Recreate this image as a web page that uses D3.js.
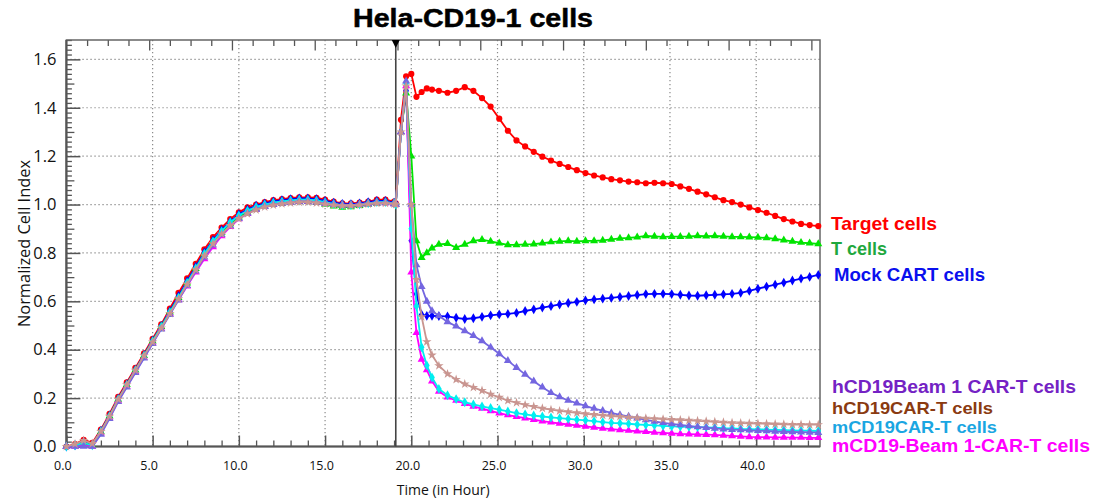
<!DOCTYPE html>
<html>
<head>
<meta charset="utf-8">
<script src="https://cdn.jsdelivr.net/npm/d3@7"></script>
<style>
  html, body { margin: 0; padding: 0; background: #ffffff; }
  svg { display: block; }
</style>
</head>
<body>
<svg id="chart" width="1102" height="501"></svg>
<script>
// ---------------- DATA ----------------
const hours = [
  0,0.5,1,1.5,2,2.5,3,3.5,4,4.5,5,5.5,6,6.5,7,7.5,8,8.5,9,9.5,10,10.5,11,11.5,12,12.5,13,13.5,14,14.5,15,15.5,16,16.5,17,17.5,18,18.5,19,
  19.1,19.4,19.7,20.0,20.3,20.6,20.9,21.2,
  21.6,22.1,22.6,23.1,23.6,24.1,24.6,25.1,25.6,26.1,26.6,27.1,27.6,28.1,28.6,29.1,29.6,30.1,30.6,31.1,31.6,32.1,32.6,33.1,33.6,34.1,34.6,35.1,35.6,36.1,36.6,37.1,37.6,38.1,38.6,39.1,39.6,40.1,40.6,41.1,41.6,42.1,42.6,43.1,43.6
];

const targetCells = [
  0,0.01,0.028,0.015,0.07,0.135,0.205,0.265,0.325,0.385,0.445,0.505,0.57,0.635,0.695,0.755,0.815,0.865,0.905,0.94,0.968,0.988,1.0,1.01,1.018,1.022,1.027,1.03,1.03,1.028,1.02,1.012,1.005,1.005,1.008,1.012,1.02,1.02,1.012,
  1.005,1.35,1.53,1.54,1.445,1.465,1.48,1.475,
  1.47,1.462,1.47,1.485,1.47,1.44,1.405,1.355,1.305,1.265,1.24,1.218,1.198,1.182,1.168,1.155,1.142,1.13,1.12,1.112,1.105,1.1,1.095,1.092,1.088,1.09,1.088,1.085,1.075,1.065,1.053,1.042,1.03,1.018,1.01,1.0,0.988,0.977,0.966,0.953,0.94,0.93,0.92,0.915,0.911
];
const tCells = [
  0,0.005,0.015,0.005,0.06,0.125,0.195,0.255,0.315,0.375,0.435,0.495,0.555,0.615,0.675,0.735,0.795,0.845,0.885,0.92,0.948,0.968,0.982,0.993,1.0,1.005,1.01,1.012,1.012,1.008,1.0,0.993,0.988,0.99,0.995,1.0,1.005,1.008,1.005,
  1.0,1.3,1.46,1.2,0.85,0.78,0.8,0.82,
  0.835,0.838,0.822,0.835,0.85,0.855,0.848,0.84,0.833,0.833,0.835,0.836,0.84,0.845,0.848,0.85,0.848,0.85,0.85,0.852,0.856,0.86,0.862,0.865,0.87,0.868,0.866,0.867,0.867,0.868,0.87,0.869,0.87,0.868,0.866,0.866,0.865,0.864,0.862,0.858,0.853,0.848,0.843,0.84,0.837
];
const mockCART = [
  0,0.005,0.02,0.008,0.065,0.128,0.198,0.258,0.318,0.378,0.438,0.498,0.56,0.622,0.683,0.743,0.803,0.853,0.895,0.93,0.96,0.98,0.995,1.005,1.013,1.018,1.022,1.025,1.025,1.022,1.015,1.008,1.003,1.002,1.005,1.01,1.015,1.015,1.008,
  1.005,1.3,1.47,0.85,0.63,0.545,0.54,0.54,
  0.539,0.538,0.532,0.527,0.53,0.536,0.542,0.546,0.548,0.552,0.56,0.567,0.574,0.58,0.587,0.593,0.598,0.604,0.608,0.611,0.614,0.618,0.622,0.626,0.63,0.631,0.631,0.63,0.627,0.624,0.623,0.625,0.627,0.629,0.631,0.635,0.643,0.652,0.661,0.669,0.677,0.686,0.694,0.701,0.709
];
const hCD19Beam1 = [
  0,0,0,0,0.05,0.115,0.185,0.245,0.305,0.365,0.425,0.485,0.545,0.605,0.665,0.725,0.782,0.832,0.875,0.912,0.942,0.963,0.98,0.992,1.0,1.006,1.01,1.013,1.013,1.01,1.005,1.0,0.997,0.997,1.0,1.003,1.007,1.007,1.003,
  1.0,1.3,1.51,1.0,0.75,0.66,0.6,0.56,
  0.54,0.515,0.497,0.478,0.458,0.436,0.41,0.383,0.355,0.326,0.298,0.27,0.245,0.222,0.205,0.19,0.179,0.168,0.157,0.148,0.139,0.131,0.124,0.117,0.11,0.104,0.098,0.093,0.089,0.085,0.081,0.078,0.075,0.072,0.07,0.069,0.067,0.065,0.064,0.062,0.061,0.06,0.059,0.058,0.057
];
const hCD19CART = [
  0,0.01,0.025,0.012,0.062,0.125,0.195,0.255,0.315,0.375,0.432,0.49,0.55,0.61,0.67,0.73,0.788,0.838,0.878,0.913,0.942,0.962,0.978,0.99,0.998,1.003,1.007,1.01,1.01,1.007,1.002,0.998,0.995,0.995,0.998,1.002,1.005,1.005,1.002,
  1.0,1.3,1.49,1.0,0.69,0.536,0.433,0.378,
  0.334,0.3,0.277,0.258,0.244,0.231,0.216,0.203,0.19,0.181,0.172,0.165,0.158,0.152,0.147,0.143,0.139,0.135,0.132,0.129,0.126,0.124,0.121,0.119,0.117,0.115,0.113,0.111,0.11,0.108,0.106,0.104,0.102,0.1,0.098,0.097,0.096,0.095,0.094,0.093,0.092,0.091,0.091,0.09,0.09
];
const mCD19CART = [
  0,0.005,0.015,0.005,0.062,0.125,0.195,0.255,0.315,0.375,0.435,0.495,0.555,0.615,0.677,0.737,0.797,0.848,0.89,0.927,0.955,0.975,0.99,1.0,1.008,1.013,1.017,1.02,1.02,1.017,1.01,1.003,0.998,0.998,1.0,1.005,1.01,1.01,1.005,
  1.0,1.3,1.5,0.9,0.58,0.41,0.335,0.285,
  0.238,0.212,0.196,0.183,0.174,0.166,0.159,0.152,0.145,0.138,0.133,0.128,0.124,0.12,0.117,0.114,0.111,0.108,0.105,0.101,0.098,0.096,0.094,0.091,0.089,0.087,0.085,0.083,0.082,0.081,0.08,0.079,0.078,0.076,0.075,0.073,0.072,0.071,0.07,0.069,0.068,0.067,0.066,0.065,0.064
];
const mCD19Beam1 = [
  0,0,0.005,0,0.055,0.118,0.188,0.248,0.308,0.368,0.428,0.488,0.548,0.606,0.663,0.72,0.775,0.825,0.87,0.908,0.94,0.962,0.98,0.992,1.0,1.006,1.01,1.013,1.013,1.01,1.005,1.0,0.997,0.997,1.0,1.003,1.007,1.007,1.003,
  1.0,1.3,1.49,0.72,0.47,0.36,0.316,0.27,
  0.228,0.204,0.19,0.177,0.166,0.157,0.147,0.138,0.13,0.123,0.117,0.111,0.105,0.1,0.095,0.091,0.087,0.083,0.079,0.075,0.072,0.069,0.066,0.063,0.061,0.058,0.056,0.054,0.052,0.051,0.05,0.049,0.048,0.046,0.044,0.042,0.04,0.039,0.039,0.038,0.038,0.037,0.037,0.036,0.036
];

const seriesNames = ["Target cells","T cells","Mock CART cells","hCD19Beam 1 CAR-T cells","hCD19CAR-T cells","mCD19CAR-T cells","mCD19-Beam 1-CAR-T cells"];
const xTickValues = [0,5,10,15,20,25,30,35,40];
const yTickValues = [0,0.2,0.4,0.6,0.8,1.0,1.2,1.4,1.6];
const treatmentHour = 19.1;
const chartTitle = "Hela-CD19-1 cells";
const xTitle = "Time (in Hour)";
const yTitle = "Normalized Cell Index";

// ---------------- STYLES ----------------
const lineColors  = ["#ff0000","#00e400","#0000ff","#7466e0","#c99590","#00eef0","#ff00ff"];
const labelColors = ["#ff0000","#1fa83e","#0a10ee","#7422c4","#8a3a10","#1aa6e2","#ff00ff"];
const symbols = [d3.symbolCircle, d3.symbolTriangle, d3.symbolDiamond, d3.symbolTriangle, d3.symbolStar, d3.symbolDiamond, d3.symbolTriangle];
const drawOrder = [0,2,1,6,5,3,4];
const labelBaselines = [230,255,281,392.5,413.5,432.5,451.5];
const labelX = [831,831,834,832,832,832,832];
const labelWidths = [106,56,151,244,161,165,258];
const labelSizes = [18.5,18.5,18.5,18,17,17,18];

const allSeries = [targetCells,tCells,mockCART,hCD19Beam1,hCD19CART,mCD19CART,mCD19Beam1];

const svg = d3.select("#chart");
const L = 66.4, R = 820, T = 40, B = 446.5;
const x = d3.scaleLinear().domain([0, 43.7]).range([L, R]);
const y = d3.scaleLinear().domain([0, 1.68]).range([B, T]);

svg.append("rect").attr("width",1102).attr("height",501).attr("fill","#fff");

// grid
const grid = svg.append("g").attr("stroke","#8a8a8a").attr("stroke-width",1.2).attr("stroke-dasharray","1.3,2.7");
grid.selectAll("line.h").data(yTickValues.filter(d=>d>0)).join("line")
  .attr("x1",L).attr("x2",R).attr("y1",d=>y(d)).attr("y2",d=>y(d));
grid.selectAll("line.v").data(xTickValues.filter(d=>d>0)).join("line")
  .attr("x1",d=>x(d)).attr("x2",d=>x(d)).attr("y1",T).attr("y2",B);

// minor y ticks
const yMinor = d3.range(0, 1.681, 0.02).filter(v => Math.abs(v*10 - Math.round(v*10)) > 1e-6);
const yMid = d3.range(0.1, 1.681, 0.2);
svg.append("g").attr("transform",`translate(${L},0)`)
  .call(d3.axisLeft(y).tickValues(yMinor).tickSize(-5.5).tickSizeOuter(0).tickFormat(""))
  .call(g=>g.select(".domain").remove()).selectAll("line").attr("stroke","#555").attr("stroke-width",1.3);
svg.append("g").attr("transform",`translate(${L},0)`)
  .call(d3.axisLeft(y).tickValues(yMid).tickSize(-8).tickSizeOuter(0).tickFormat(""))
  .call(g=>g.select(".domain").remove()).selectAll("line").attr("stroke","#555").attr("stroke-width",1.3);
// major y ticks
const yAx = svg.append("g").attr("transform",`translate(${L},0)`)
  .call(d3.axisLeft(y).tickValues(yTickValues).tickSize(-14).tickSizeOuter(0).tickPadding(10).tickFormat(d3.format(".1f")))
  .call(g=>g.select(".domain").remove());
yAx.selectAll("line").attr("stroke","#555").attr("stroke-width",1.5);
yAx.selectAll("text").attr("font-family","'Open Sans', sans-serif").attr("font-size",16.5).attr("fill","#111");

// bottom ticks
const xMinor = d3.range(1, 44, 1).filter(v => v % 5 !== 0);
svg.append("g").attr("transform",`translate(0,${B})`)
  .call(d3.axisBottom(x).tickValues(xMinor).tickSize(-6).tickSizeOuter(0).tickFormat(""))
  .call(g=>g.select(".domain").remove()).selectAll("line").attr("stroke","#555").attr("stroke-width",1.3);
const xAx = svg.append("g").attr("transform",`translate(0,${B})`)
  .call(d3.axisBottom(x).tickValues(xTickValues).tickSize(-11).tickSizeOuter(0).tickPadding(15).tickFormat(d3.format(".1f")))
  .call(g=>g.select(".domain").remove());
xAx.selectAll("line").attr("stroke","#555").attr("stroke-width",1.5);
xAx.selectAll("text").attr("font-family","'Open Sans', sans-serif").attr("font-size",12.5).attr("fill","#111").attr("dx",-4);

// top ticks (every 1.2 h, long every 4.8 h)
const topMinor = d3.range(1.2, 43.7, 1.2).filter((v,i) => (i+1) % 4 !== 0);
const topMajor = d3.range(4.8, 43.7, 4.8);
svg.append("g").attr("transform",`translate(0,${T})`)
  .call(d3.axisTop(x).tickValues(topMinor).tickSize(-6).tickSizeOuter(0).tickFormat(""))
  .call(g=>g.select(".domain").remove()).selectAll("line").attr("stroke","#555").attr("stroke-width",1.3);
svg.append("g").attr("transform",`translate(0,${T})`)
  .call(d3.axisTop(x).tickValues(topMajor).tickSize(-10.5).tickSizeOuter(0).tickFormat(""))
  .call(g=>g.select(".domain").remove()).selectAll("line").attr("stroke","#555").attr("stroke-width",1.3);

// frame
svg.append("rect").attr("x",L).attr("y",T).attr("width",R-L).attr("height",B-T)
  .attr("fill","none").attr("stroke","#666").attr("stroke-width",1.5);
svg.append("line").attr("x1",L).attr("x2",L).attr("y1",T).attr("y2",B).attr("stroke","#555").attr("stroke-width",2.2);
svg.append("line").attr("x1",L).attr("x2",R).attr("y1",B).attr("y2",B).attr("stroke","#555").attr("stroke-width",2.2);

// treatment line and marker
svg.append("line").attr("x1",x(treatmentHour)).attr("x2",x(treatmentHour)).attr("y1",T).attr("y2",B)
  .attr("stroke","#444").attr("stroke-width",1.6);
svg.append("path").attr("d",`M${x(treatmentHour)-4},${T} L${x(treatmentHour)+4},${T} L${x(treatmentHour)},${T+8} Z`).attr("fill","#000");

// series
const line = d3.line().x((d,i)=>x(hours[i])).y(d=>y(d));
const plot = svg.append("g");
drawOrder.forEach(si => {
  const vals = allSeries[si];
  const g = plot.append("g");
  g.append("path").datum(vals).attr("d", line).attr("fill","none")
    .attr("stroke", lineColors[si]).attr("stroke-width", 1.8);
  g.selectAll("path.m").data(vals).join("path").attr("class","m")
    .attr("transform",(d,i)=>`translate(${x(hours[i])},${y(d)})`)
    .attr("d", d3.symbol().type(symbols[si]).size(si===0 ? 30 : 28))
    .attr("fill", lineColors[si]);
});

// titles
svg.append("text").attr("x",353).attr("y",27).attr("font-family","'Liberation Sans', Arial, sans-serif")
  .attr("font-weight","bold").attr("font-size",25).attr("textLength",240).attr("lengthAdjust","spacingAndGlyphs")
  .attr("fill","#000").attr("stroke","#000").attr("stroke-width",0.5).text(chartTitle);
svg.append("text").attr("x",(L+R)/2).attr("y",495).attr("text-anchor","middle")
  .attr("font-family","'Open Sans', sans-serif").attr("font-size",14).attr("fill","#111").text(xTitle);
svg.append("text").attr("transform",`translate(30,${243.5}) rotate(-90)`).attr("text-anchor","middle")
  .attr("font-family","'Open Sans', sans-serif").attr("font-size",15.5).attr("textLength",167).attr("lengthAdjust","spacingAndGlyphs")
  .attr("fill","#111").text(yTitle);

// series labels
svg.append("g").selectAll("text").data(seriesNames).join("text")
  .attr("x",(d,i)=>labelX[i]).attr("y",(d,i)=>labelBaselines[i])
  .attr("font-family","'Liberation Sans', Arial, sans-serif").attr("font-weight","bold").attr("font-size",(d,i)=>labelSizes[i])
  .attr("textLength",(d,i)=>labelWidths[i]).attr("lengthAdjust","spacingAndGlyphs")
  .attr("fill",(d,i)=>labelColors[i]).text(d=>d);
</script>
</body>
</html>
